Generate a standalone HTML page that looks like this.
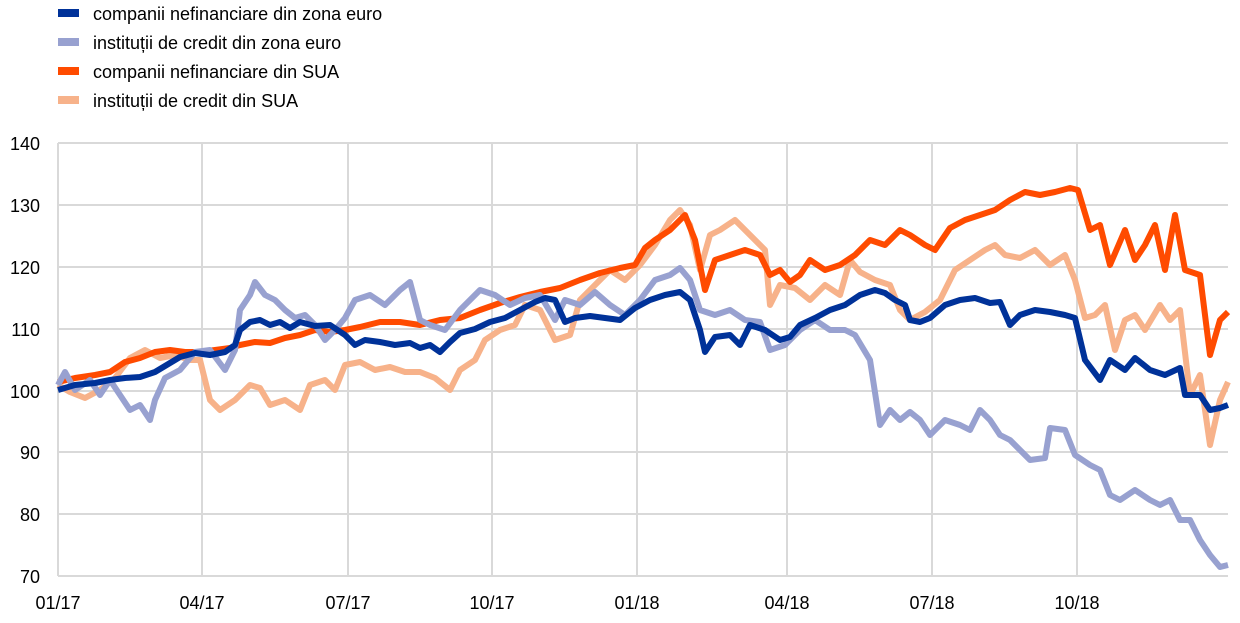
<!DOCTYPE html>
<html><head><meta charset="utf-8"><style>
body{margin:0;background:#fff;width:1240px;height:618px;overflow:hidden;font-family:"Liberation Sans",sans-serif}
</style></head><body>
<svg width="1240" height="618" xmlns="http://www.w3.org/2000/svg" font-family="Liberation Sans, sans-serif">
<g font-size="18" fill="#000">
<rect x="58" y="9" width="21" height="8" fill="#003299"/><text x="93" y="20">companii nefinanciare din zona euro</text>
<rect x="58" y="38" width="21" height="8" fill="#98a1d0"/><text x="93" y="49">instituții de credit din zona euro</text>
<rect x="58" y="67" width="21" height="8" fill="#ff4b00"/><text x="93" y="78">companii nefinanciare din SUA</text>
<rect x="58" y="96" width="21" height="8" fill="#f7b28a"/><text x="93" y="107">instituții de credit din SUA</text>
</g>
<g stroke="#d9d9d9" stroke-width="2">
<line x1="58" y1="143" x2="1228" y2="143"/><line x1="58" y1="205" x2="1228" y2="205"/><line x1="58" y1="267" x2="1228" y2="267"/><line x1="58" y1="329" x2="1228" y2="329"/><line x1="58" y1="391" x2="1228" y2="391"/><line x1="58" y1="452" x2="1228" y2="452"/><line x1="58" y1="514" x2="1228" y2="514"/><line x1="58" y1="576" x2="1228" y2="576"/>
<line x1="58" y1="143" x2="58" y2="576"/><line x1="202" y1="143" x2="202" y2="576"/><line x1="348" y1="143" x2="348" y2="576"/><line x1="492" y1="143" x2="492" y2="576"/><line x1="637" y1="143" x2="637" y2="576"/><line x1="787" y1="143" x2="787" y2="576"/><line x1="932" y1="143" x2="932" y2="576"/><line x1="1077" y1="143" x2="1077" y2="576"/>
</g>
<g font-size="18" fill="#000" text-anchor="end">
<text x="40" y="150">140</text><text x="40" y="212">130</text><text x="40" y="274">120</text><text x="40" y="336">110</text><text x="40" y="398">100</text><text x="40" y="459">90</text><text x="40" y="521">80</text><text x="40" y="583">70</text>
</g>
<g font-size="18" fill="#000" text-anchor="middle">
<text x="58" y="609">01/17</text><text x="202" y="609">04/17</text><text x="348" y="609">07/17</text><text x="492" y="609">10/17</text><text x="637" y="609">01/18</text><text x="787" y="609">04/18</text><text x="932" y="609">07/18</text><text x="1077" y="609">10/18</text>
</g>
<g fill="none" stroke-width="6" stroke-linejoin="round">
<polyline stroke="#f7b28a" points="58,385 70,392 85,398 100,390 115,378 130,358 145,350 160,358 175,355 190,360 200,360 210,400 220,410 235,400 250,385 260,388 270,405 285,400 300,410 310,385 325,380 335,390 345,365 360,362 375,370 390,367 405,372 420,372 435,378 450,390 460,370 475,360 485,340 500,330 515,325 525,305 540,310 555,340 570,335 580,300 595,285 610,270 625,280 640,265 655,245 670,220 680,210 690,225 700,270 710,235 720,230 735,220 750,235 765,250 770,305 780,285 795,288 810,300 825,285 840,295 850,260 860,272 875,280 890,285 900,310 910,320 925,312 940,300 955,270 970,260 985,250 995,245 1005,255 1020,258 1035,250 1050,265 1065,255 1075,280 1085,318 1095,315 1105,305 1115,350 1125,320 1135,315 1145,330 1160,305 1170,320 1180,310 1190,395 1200,375 1210,445 1220,400 1228,382"/>
<polyline stroke="#ff4b00" points="58,382 75,378 95,375 110,372 125,362 140,358 155,352 170,350 185,352 200,352 215,350 230,348 240,345 255,342 270,343 285,338 300,335 315,330 330,332 345,330 360,327 380,322 400,322 420,325 440,320 460,318 480,310 500,303 520,297 540,292 560,288 580,280 600,273 620,268 635,265 645,248 655,240 670,230 685,215 695,240 705,290 715,260 730,255 745,250 760,255 770,275 780,270 790,282 800,275 810,260 825,270 840,265 855,255 870,240 885,245 900,230 910,235 925,245 935,250 950,228 965,220 980,215 995,210 1010,200 1025,192 1040,195 1055,192 1070,188 1078,190 1090,230 1100,225 1110,265 1125,230 1135,260 1145,245 1155,225 1165,270 1175,215 1185,270 1200,275 1210,355 1220,320 1228,312"/>
<polyline stroke="#98a1d0" points="58,385 65,372 75,390 90,380 100,395 110,380 120,395 130,410 140,405 150,420 155,400 165,378 180,370 195,352 210,350 225,370 235,350 240,310 250,295 255,282 265,295 275,300 285,310 295,318 305,315 315,325 325,340 335,330 345,318 355,300 370,295 385,305 400,290 410,282 420,320 430,325 445,330 460,310 470,300 480,290 495,295 510,305 525,298 540,295 555,320 565,300 580,305 595,292 610,305 625,315 640,300 655,280 670,275 680,268 690,280 700,310 715,315 730,310 745,320 760,322 770,350 785,345 800,330 815,320 830,330 845,330 855,335 870,360 880,425 890,410 900,420 910,412 920,420 930,435 945,420 960,425 970,430 980,410 990,420 1000,435 1010,440 1020,450 1030,460 1045,458 1050,428 1065,430 1075,455 1090,465 1100,470 1110,495 1120,500 1135,490 1150,500 1160,505 1170,500 1180,520 1190,520 1200,540 1210,555 1220,567 1228,565"/>
<polyline stroke="#003299" points="58,390 75,385 95,383 110,380 125,378 140,377 155,372 165,366 180,357 195,353 210,355 225,352 235,345 240,330 250,322 260,320 270,325 280,322 290,328 300,322 315,326 330,325 345,335 355,345 365,340 380,342 395,345 410,343 420,348 430,345 440,352 450,342 460,333 475,329 490,322 505,318 520,310 535,302 545,298 555,300 565,322 575,318 590,316 605,318 620,320 635,308 650,300 665,295 680,292 690,300 700,330 705,352 715,337 730,335 740,345 750,325 765,330 780,340 790,337 800,325 815,318 830,310 845,305 860,295 875,290 885,293 895,300 905,305 910,320 920,322 930,318 945,305 960,300 975,298 990,303 1000,302 1010,325 1020,315 1035,310 1050,312 1065,315 1075,318 1085,360 1100,380 1110,360 1125,370 1135,358 1150,370 1165,375 1180,368 1185,395 1200,395 1210,410 1220,408 1228,405"/>
</g>
</svg>
</body></html>
